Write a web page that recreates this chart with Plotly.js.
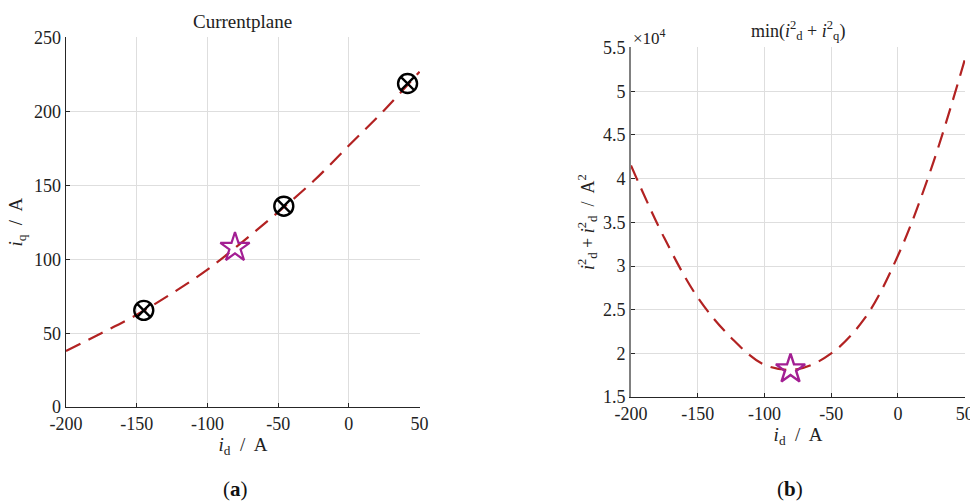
<!DOCTYPE html>
<html>
<head>
<meta charset="utf-8">
<script src="https://cdn.plot.ly/plotly-3.0.1.min.js"></script>
<style>html,body{margin:0;padding:0;background:#fff;}#chart{width:970px;height:502px;}</style>
</head>
<body>
<div id="chart"></div>
<script>
// ---- data ----
const curveX = [-200, -175, -150, -125, -100, -75, -50, -25, 0, 25, 50];
const iqCurve = [38, 50, 62.5, 77, 93, 112, 132, 153, 177, 201, 227];
const sumSqCurve = [41500, 33200, 26400, 21800, 18700, 18200, 20000, 24000, 31200, 41200, 53600];

const opX = [-145, -46, 41.5];
const opIq = [65.5, 136, 219];

const optX = [-80.5];
const optIq = [108];
const optSumSq = [18200];

const xTicks = [-200, -150, -100, -50, 0, 50];
const xTickText = ['-200', '-150', '-100', '-50', '0', '50'];
const yTicksA = [0, 50, 100, 150, 200, 250];
const yTicksB = [15000, 20000, 25000, 30000, 35000, 40000, 45000, 50000, 55000];
const yTickTextB = ['1.5', '2', '2.5', '3', '3.5', '4', '4.5', '5', '5.5'];

const serif = 'Liberation Serif';
const lineColor = '#b22222';
const starColor = '#a31f93';

const traces = [
  {x: curveX, y: iqCurve, xaxis: 'x', yaxis: 'y', mode: 'lines', line: {color: lineColor, width: 2.2, dash: '16px,9px', shape: 'spline'}, hoverinfo: 'skip'},
  {x: opX, y: opIq, xaxis: 'x', yaxis: 'y', mode: 'markers', marker: {symbol: 'circle-x-open', size: 19, color: '#000', line: {width: 2.4, color: '#000'}}},
  {x: optX, y: optIq, xaxis: 'x', yaxis: 'y', mode: 'markers', marker: {symbol: 'star-open', size: 22, color: starColor, line: {width: 2.2, color: starColor}}},
  {x: curveX, y: sumSqCurve, xaxis: 'x2', yaxis: 'y2', mode: 'lines', line: {color: lineColor, width: 2.2, dash: '16px,9px', shape: 'spline'}},
  {x: optX, y: optSumSq, xaxis: 'x2', yaxis: 'y2', mode: 'markers', marker: {symbol: 'star-open', size: 22, color: starColor, line: {width: 2.4, color: starColor}}}
];

const axBase = {
  showgrid: true, gridcolor: '#dedede', gridwidth: 1,
  showline: true, linecolor: '#262626', linewidth: 1.3,
  ticks: 'inside', ticklen: 4, tickcolor: '#262626', tickwidth: 1,
  zeroline: false, ticklabeloverflow: 'allow',
  tickfont: {family: serif, size: 18, color: '#222'}
};

const layout = {
  width: 970, height: 502,
  margin: {l: 0, r: 0, t: 0, b: 0},
  paper_bgcolor: '#fff', plot_bgcolor: '#fff',
  showlegend: false,
  font: {family: serif, color: '#222'},
  xaxis: Object.assign({}, axBase, {domain: [0.068, 0.433], range: [-200, 50.3], tickvals: xTicks, ticktext: xTickText, anchor: 'y',
    title: {text: '<i>i</i><sub>d</sub>  /  A', font: {family: serif, size: 19}, standoff: 2}}),
  yaxis: Object.assign({}, axBase, {domain: [0.189, 0.926], range: [0, 250.4], tickvals: yTicksA, anchor: 'x',
    title: {text: '<i>i</i><sub>q</sub>  /  A', font: {family: serif, size: 19}, standoff: 6}}),
  xaxis2: Object.assign({}, axBase, {domain: [0.6505, 0.995], range: [-200, 50.3], tickvals: xTicks, ticktext: xTickText, anchor: 'y2',
    title: {text: '<i>i</i><sub>d</sub>  /  A', font: {family: serif, size: 19}, standoff: 2}}),
  yaxis2: Object.assign({}, axBase, {domain: [0.209, 0.906], range: [15000, 55050], tickvals: yTicksB, ticktext: yTickTextB, anchor: 'x2', linecolor: '#808080', linewidth: 2,
    title: {text: '<i>i</i><sup>2</sup><sub>d</sub> + <i>i</i><sup>2</sup><sub>d</sub>  /  A<sup>2</sup>', font: {family: serif, size: 18}, standoff: 4}}),
  annotations: [
    {text: 'Currentplane', xref: 'paper', yref: 'paper', x: 0.2505, y: 1 - 22/502, xanchor: 'center', yanchor: 'middle', showarrow: false, font: {family: serif, size: 19, color: '#222'}},
    {text: 'min(<i>i</i><sup>2</sup><sub>d</sub> + <i>i</i><sup>2</sup><sub>q</sub>)', xref: 'paper', yref: 'paper', x: 0.8227, y: 1 - 31/502, xanchor: 'center', yanchor: 'middle', showarrow: false, font: {family: serif, size: 18, color: '#222'}},
    {text: '×10<sup>4</sup>', xref: 'paper', yref: 'paper', x: 631/970, y: 1 - 37/502, xanchor: 'left', yanchor: 'middle', showarrow: false, font: {family: serif, size: 17, color: '#222'}},
    {text: '(<b>a</b>)', xref: 'paper', yref: 'paper', x: 235/970, y: 1 - 489/502, xanchor: 'center', yanchor: 'middle', showarrow: false, font: {family: serif, size: 21, color: '#111'}},
    {text: '(<b>b</b>)', xref: 'paper', yref: 'paper', x: 790/970, y: 1 - 489/502, xanchor: 'center', yanchor: 'middle', showarrow: false, font: {family: serif, size: 21, color: '#111'}}
  ]
};

Plotly.newPlot('chart', traces, layout, {staticPlot: true, displayModeBar: false});
</script>
</body>
</html>
